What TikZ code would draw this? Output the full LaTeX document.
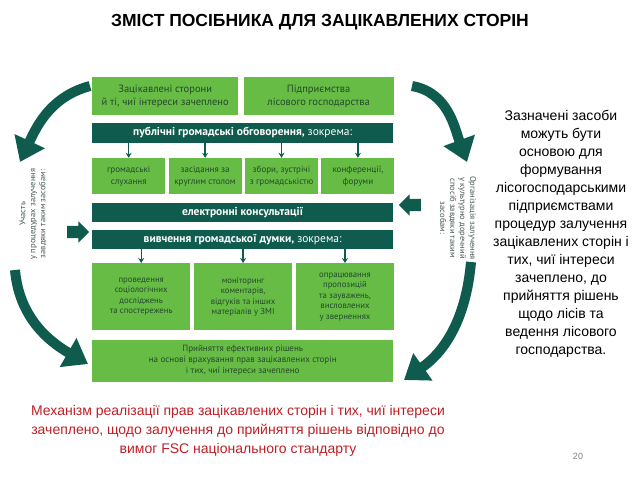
\documentclass[tikz,border=0pt]{standalone}
\usepackage{fontspec}
\setmainfont{Liberation Sans}
\newfontfamily\boxfont{PT Sans}
\usepackage{tikz}
\usetikzlibrary{arrows.meta, positioning, shapes.arrows}
\definecolor{DarkTeal}  {HTML}{0F5C4E}
\definecolor{LeafGreen} {HTML}{67BC46}
\definecolor{BoxText}   {HTML}{234A2A}
\definecolor{SideText}  {HTML}{4A5A52}
\definecolor{NoteRed}   {HTML}{BE1E24}

\begin{document}
\begin{tikzpicture}[
		x=1pt, y=-1pt,
		node distance=5pt,
		gbox/.style={fill=LeafGreen, text=BoxText, inner sep=1pt,
			font=\boxfont\fontsize{9}{11.5}\selectfont, align=center},
		bar/.style={fill=DarkTeal, text=white, inner sep=1pt,
			minimum width=301pt, minimum height=19pt,
			font=\boxfont\fontsize{11.5}{13}\selectfont, align=center},
		sidetext/.style={text=SideText, font=\boxfont\fontsize{8.5}{10}\selectfont, align=center},
		sarr/.style={-{Stealth[length=5pt, width=6pt]}, DarkTeal, line width=1.3pt},
		bigarr/.style={DarkTeal, line width=10pt, -{Triangle[length=23pt, width=32pt]}},
		blockarr/.style={single arrow, fill=DarkTeal, minimum width=21pt, minimum height=22pt,
			single arrow head extend=4.5pt, inner xsep=1pt, inner ysep=6pt},
		]
		\useasboundingbox (0,0) rectangle (638,479);
		% ── Title ───────────────────────────────────────────────────────────────────
		\node[font=\fontsize{17.5}{20}\selectfont\bfseries] (title) at (320,22)
		{ЗМІСТ ПОСІБНИКА ДЛЯ ЗАЦІКАВЛЕНИХ СТОРІН};
		% ── Top row ─────────────────────────────────────────────────────────────────
		\node[gbox, minimum width=146pt, minimum height=38pt, anchor=north west,
		font=\boxfont\fontsize{10.5}{12.5}\selectfont] (stake) at (92,77)
		{Зацікавлені сторони\\й ті, чиї інтереси зачеплено};
		\node[gbox, minimum width=150pt, minimum height=38pt, right=5pt of stake,
		font=\boxfont\fontsize{10.5}{12.5}\selectfont] (forest)
		{Підприємства\\лісового господарства};
		% ── Public discussions ──────────────────────────────────────────────────────
		\node[bar, below=7pt of stake.south west, anchor=north west, minimum height=20pt] (pub)
		{\textbf{публічні громадські обговорення,} зокрема:};
		\node[gbox, minimum width=73pt, minimum height=36pt, below=15pt of pub.south west,
		anchor=north west] (hear) {громадські\\слухання};
		\node[gbox, minimum width=73pt, minimum height=36pt, right=3pt of hear] (round)
		{засідання за\\круглим столом};
		\node[gbox, minimum width=73pt, minimum height=36pt, right=3pt of round] (meet)
		{збори, зустрічі\\з громадськістю};
		\node[gbox, minimum width=73pt, minimum height=36pt, right=3pt of meet] (conf)
		{конференції,\\форуми};
		% ── Consultations and opinion study ─────────────────────────────────────────
		\node[bar, below=9pt of hear.south west, anchor=north west] (econs)
		{\textbf{електронні консультації}};
		\node[bar, below=7pt of econs] (study)
		{\textbf{вивчення громадської думки,} зокрема:};
		\node[gbox, minimum width=98pt, minimum height=67pt, below=14pt of study.south west,
		anchor=north west, font=\boxfont\fontsize{8.7}{10.5}\selectfont] (soc)
		{проведення\\соціологічних\\досліджень\\та спостережень};
		\node[gbox, minimum width=98pt, minimum height=67pt, right=3.5pt of soc,
		font=\boxfont\fontsize{8.7}{10.5}\selectfont] (media)
		{моніторинг\\коментарів,\\відгуків та інших\\матеріалів у ЗМІ};
		\node[gbox, minimum width=98pt, minimum height=67pt, right=3.5pt of media,
		font=\boxfont\fontsize{8.7}{10.5}\selectfont] (appeal)
		{опрацювання\\пропозицій\\та зауважень,\\висловлених\\у зверненнях};
		\node[gbox, minimum width=301pt, minimum height=42pt, below=9pt of soc.south west,
		anchor=north west, font=\boxfont\fontsize{9}{11}\selectfont] (decide)
		{Прийняття ефективних рішень\\на основі врахування прав зацікавлених сторін\\і тих, чиї інтереси зачеплено};
		% ── Small arrows ────────────────────────────────────────────────────────────
		\foreach \x in {hear, round, meet, conf}
		\draw[sarr] (\x.north |- pub.south) -- (\x.north);
		\foreach \x in {soc, media, appeal}
		\draw[sarr] (\x.north |- study.south) -- (\x.north);
		% ── Side texts and block arrows ─────────────────────────────────────────────
		\node[sidetext, rotate=90] (part) at (33,214)
		{Участь\\у процедурах залучення\\завдяки таким засобам:};
		\node[sidetext, rotate=-90] (org) at (458,218)
		{Організація залучення\\у культурно доречний\\спосіб завдяки таким\\засобам:};
		\node[blockarr] (inarr) at (75,232) {};
		\node[blockarr, shape border rotate=180] (outarr) at (413,205) {};
		% ── Big curved arrows ───────────────────────────────────────────────────────
		\coordinate (tlA) at (90,86);   \coordinate (tlB) at (20,162);
		\coordinate (blA) at (15,270);  \coordinate (blB) at (88,364);
		\coordinate (trA) at (412,86);  \coordinate (trB) at (467,162);
		\coordinate (brA) at (471,262); \coordinate (brB) at (404,380);
		\draw[bigarr] (tlA) to[out=195, in=65] (tlB);
		\draw[bigarr] (blA) to[out=-85, in=150] (blB);
		\draw[bigarr] (trA) to[out=-10, in=110] (trB);
		\draw[bigarr] (brA) to[out=-95, in=35] (brB);
		% ── Notes ───────────────────────────────────────────────────────────────────
		\node[font=\fontsize{14}{18}\selectfont, align=center, anchor=north] (note) at (561,107)
		{Зазначені засоби\\можуть бути\\основою для\\формування\\лісогосподарськими\\підприємствами\\процедур залучення\\зацікавлених сторін і\\тих, чиї інтереси\\зачеплено, до\\прийняття рішень\\щодо лісів та\\ведення лісового\\господарства.};
		\node[text=NoteRed, font=\fontsize{14}{19}\selectfont, align=center] (caption) at (238,431)
		{Механізм реалізації прав зацікавлених сторін і тих, чиї інтереси\\зачеплено, щодо залучення до прийняття рішень відповідно до\\вимог FSC національного стандарту};
		\node[text=gray, font=\fontsize{9}{10}\selectfont] (page) at (578,456) {20};
	\end{tikzpicture}
\end{document}
